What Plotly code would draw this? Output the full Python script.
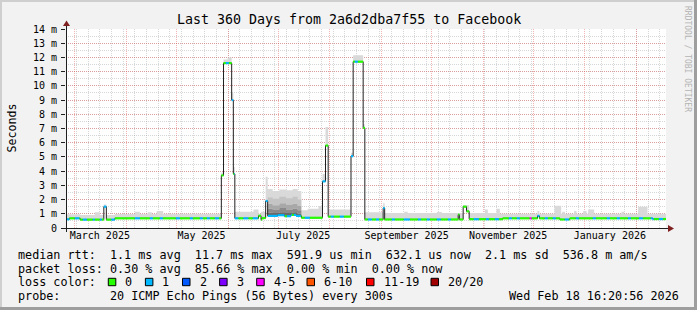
import bisect
import pandas as pd
import plotly.graph_objects as go

START = pd.Timestamp("2025-02-23 16:20:56")
END = pd.Timestamp("2026-02-18 16:20:56")
SPAN = 360.0

# ---- median RTT (ms), step series: day offset where each value starts ----
med_day = [0, 2.0, 8.5, 22.7, 24.2, 29.3, 93.2, 94.5, 99.4, 100.4, 101.3,
           115.5, 117.0, 117.5, 119.8, 121.0, 127.0, 131.0, 135.0, 138.0, 141.2,
           153.9, 155.7, 157.3, 171.0, 172.3, 178.3, 179.3, 190.3, 191.2,
           235.3, 236.0, 238.3, 240.3, 241.9, 262.0, 282.9, 284.0, 296.3, 302.3, 352.0]
med_ms = [0.61, 0.68, 0.59, 1.5, 0.59, 0.68, 3.7, 11.6, 9.0, 3.8, 0.68,
          0.86, 0.58, 0.7, 1.9, 0.85, 0.9, 0.83, 0.92, 0.85, 0.72,
          3.28, 5.8, 0.8, 5.05, 11.7, 7.04, 0.6, 1.4, 0.6,
          0.94, 0.6, 1.5, 1.17, 0.62, 0.68, 0.85, 0.68, 0.6, 0.68, 0.63]

# ---- smoke (max of the pings), step series ----
smoke_day = [0, 8.5, 17.3, 20.3, 22.7, 24.2, 29.3, 41.3, 44.3, 49.0, 51.5, 54.4, 58.3,
             93.2, 94.5, 97.0, 99.4, 100.4, 101.3, 112.5, 115.5, 117.0, 119.8,
             121.0, 124.0, 128.0, 132.0, 136.0, 139.0, 141.2, 145.0, 151.5,
             153.9, 155.7, 157.3, 171.0, 172.3, 178.3, 179.3, 190.3, 191.2,
             203.0, 205.0, 222.5, 225.5, 238.3, 241.9, 251.4, 253.1, 258.3, 260.3,
             282.9, 284.0, 293.1, 297.1, 297.8, 299.3, 304.9, 306.3, 310.3, 312.3,
             313.3, 316.9, 333.3, 334.9, 343.3, 348.9]
smoke_ms = [0.97, 0.92, 1.1, 0.92, 1.65, 0.92, 0.98, 1.15, 0.98, 1.1, 0.98, 1.2, 1.0,
            3.9, 11.85, 12.0, 9.5, 4.3, 1.15, 1.3, 1.0, 1.15, 3.6,
            2.75, 2.6, 2.7, 2.65, 2.75, 2.6, 1.25, 1.35, 1.55,
            3.8, 7.1, 1.3, 5.3, 12.15, 7.3, 1.1, 1.75, 1.05,
            1.15, 1.05, 1.12, 1.05, 1.6, 1.05, 1.3, 1.05, 1.35, 1.0,
            1.2, 1.0, 1.57, 1.0, 1.15, 1.0, 1.2, 1.0, 1.2, 1.0,
            1.3, 1.0, 1.15, 1.0, 1.5, 1.0]

# ---- denser smoke layers in the June/July period ----
busy_day = [121.0, 124.0, 128.0, 132.0, 136.0, 139.0]
busy_l1 = [1.08, 1.05, 1.10, 1.05, 1.10, 1.00]
busy_l2 = [1.35, 1.30, 1.40, 1.30, 1.35, 1.25]
busy_l3 = [1.70, 1.60, 1.75, 1.65, 1.70, 1.55]
busy_l4 = [2.15, 2.05, 2.20, 2.10, 2.20, 2.00]
busy_end = 141.2

# ---- loss classes: intervals with 1/20 loss (blue) and 4-5/20 (magenta) ----
loss1_start = [0.2, 5.3, 10.1, 16.1, 20.3, 22.7, 27.2, 41.3, 50.3, 56.3, 65.9, 74.3, 80.3,
               84.5, 89.3, 95.9, 99.4, 101.0, 106.4, 112.1, 119.8, 121.1, 132.5, 136.7,
               143.3, 153.9, 158.9, 164.3, 171.0, 173.3, 181.1, 186.0, 190.3, 195.5,
               202.7, 211.1, 216.5, 222.5, 229.1, 244.7, 251.9, 257.3, 265.7, 270.5,
               282.9, 287.3, 292.1, 299.3, 305.9, 316.1, 324.5, 330.5, 337.1, 343.7,
               350.9, 355.7]
loss1_end = [2.0, 8.0, 12.5, 17.3, 21.5, 24.2, 29.3, 44.3, 52.1, 58.1, 68.3, 76.1, 82.1,
             86.3, 91.7, 97.7, 100.4, 103.4, 109.4, 115.1, 121.0, 131.3, 135.5, 140.9,
             146.3, 155.7, 160.7, 166.7, 172.3, 175.1, 183.5, 187.8, 191.2, 197.3,
             206.3, 212.9, 218.3, 224.9, 230.9, 247.7, 253.7, 259.7, 267.5, 272.3,
             284.0, 289.1, 293.9, 301.7, 307.7, 317.9, 326.3, 332.3, 338.9, 346.1,
             352.7, 358.1]
loss4_start = [278.2]
loss4_end = [279.3]

# ---- labels ----
month_label_dates = ["2025-03-16", "2025-05-16", "2025-07-16", "2025-09-16", "2025-11-16", "2026-01-16"]
month_label_text = ["March 2025", "May 2025", "July 2025", "September 2025", "November 2025", "January 2026"]
y_tick_vals = list(range(15))
y_tick_text = ["0"] + [f"{i} m" for i in range(1, 15)]

loss_names = ["0", "1", "2", "3", "4-5", "6-10", "11-19", "20/20"]
loss_colors = ["#26ff00", "#00b8ff", "#0059ff", "#7e00ff", "#ff00ff", "#ff5500", "#ff0000", "#a10000"]

legend_rtt = "median rtt:  1.1 ms avg  11.7 ms max  591.9 us min  632.1 us now  2.1 ms sd  536.8 m am/s"
legend_loss = "packet loss: 0.30 % avg  85.66 % max  0.00 % min  0.00 % now"
legend_probe = "20 ICMP Echo Pings (56 Bytes) every 300s"
legend_date = "Wed Feb 18 16:20:56 2026"

MONO = "DejaVu Sans Mono"


def to_dt(d):
    return (START + pd.Timedelta(days=d)).strftime("%Y-%m-%d %H:%M:%S")


def lookup(days, vals, d):
    i = bisect.bisect_right(days, d) - 1
    return vals[max(i, 0)]


def loss_class(d):
    for s, e in zip(loss4_start, loss4_end):
        if s <= d < e:
            return 4
    for s, e in zip(loss1_start, loss1_end):
        if s <= d < e:
            return 1
    return 0


fig = go.Figure()

# light smoke
grid = sorted(set(med_day + smoke_day))
gx = [to_dt(d) for d in grid] + [to_dt(SPAN)]
gm = [lookup(med_day, med_ms, d) for d in grid]
gs = [lookup(smoke_day, smoke_ms, d) for d in grid]
gm.append(gm[-1])
gs.append(gs[-1])
fig.add_trace(go.Scatter(x=gx, y=gm, mode="lines", line=dict(width=0, shape="hv"),
                         hoverinfo="skip"))
fig.add_trace(go.Scatter(x=gx, y=gs, mode="lines", line=dict(width=0, shape="hv"),
                         fill="tonexty", fillcolor="#d9d9d9", hoverinfo="skip"))

# busy-period darker layers
bgrid = sorted(set(busy_day + [d for d in med_day if busy_day[0] <= d < busy_end]))
bx = [to_dt(d) for d in bgrid] + [to_dt(busy_end)]
bm = [lookup(med_day, med_ms, d) for d in bgrid]
bm.append(bm[-1])
fig.add_trace(go.Scatter(x=bx, y=bm, mode="lines", line=dict(width=0, shape="hv"),
                         hoverinfo="skip"))
for layer, col in [(busy_l1, "#6a6a6a"), (busy_l2, "#8a8a8a"), (busy_l3, "#a8a8a8"), (busy_l4, "#c4c4c4")]:
    ly = [lookup(busy_day, layer, d) for d in bgrid]
    ly.append(ly[-1])
    fig.add_trace(go.Scatter(x=bx, y=ly, mode="lines", line=dict(width=0, shape="hv"),
                             fill="tonexty", fillcolor=col, hoverinfo="skip"))

# black median line
fig.add_trace(go.Scatter(x=[to_dt(d) for d in med_day] + [to_dt(SPAN)], y=med_ms + [med_ms[-1]],
                         mode="lines", line=dict(width=1, color="#202020", shape="hv"),
                         hoverinfo="skip"))

# coloured median bands by loss
bounds = sorted(set(med_day + loss1_start + loss1_end + loss4_start + loss4_end + [SPAN]))
seg = {0: ([], []), 1: ([], []), 4: ([], [])}
for a, b in zip(bounds[:-1], bounds[1:]):
    v = lookup(med_day, med_ms, a)
    c = loss_class(a)
    xs, ys = seg[c]
    xs += [to_dt(a), to_dt(b), None]
    ys += [v, v, None]
for c in (0, 1, 4):
    xs, ys = seg[c]
    fig.add_trace(go.Scatter(x=xs, y=ys, mode="lines", line=dict(width=2.2, color=loss_colors[c]),
                             hoverinfo="skip"))

# invisible trace for label axis
fig.add_trace(go.Scatter(x=[to_dt(0)], y=[0], xaxis="x2", mode="markers",
                         marker=dict(opacity=0), hoverinfo="skip"))

# ---- layout ----
L, T, W, H = 66, 29, 600, 199


def px(x):
    return (x - L) / W


def py(y):
    return (T + H - y) / H


month_starts = [f"{y}-{m:02d}-01" for y, m in
                [(2025, 3), (2025, 4), (2025, 5), (2025, 6), (2025, 7), (2025, 8), (2025, 9),
                 (2025, 10), (2025, 11), (2025, 12), (2026, 1), (2026, 2)]]
weeks = pd.date_range("2025-03-02", "2026-02-18", freq="7D").strftime("%Y-%m-%d").tolist()

MAJ = "rgba(222,79,79,0.42)"
MIN = "rgba(143,143,143,0.36)"

fig.update_layout(
    width=697, height=310,
    margin=dict(l=L, r=697 - L - W, t=T, b=310 - T - H),
    paper_bgcolor="#f2f2f2", plot_bgcolor="#ffffff",
    showlegend=False,
    font=dict(family=MONO, color="#000000", size=10),
    xaxis=dict(type="date", range=[to_dt(0), to_dt(SPAN)], tickvals=month_starts,
               showticklabels=False, showgrid=True, gridcolor=MAJ, griddash="1px,1px", gridwidth=1,
               ticks="", zeroline=False, showline=False,
               minor=dict(tickvals=weeks, showgrid=True, gridcolor=MIN, griddash="1px,1px", gridwidth=1)),
    xaxis2=dict(type="date", overlaying="x", anchor="y", side="bottom",
                range=[to_dt(0), to_dt(SPAN)], tickvals=month_label_dates, ticktext=month_label_text,
                showgrid=False, zeroline=False, showline=False, ticks="",
                tickfont=dict(family=MONO, size=10, color="#000")),
    yaxis=dict(range=[0, 14], tickvals=y_tick_vals, ticktext=y_tick_text,
               showgrid=True, gridcolor=MAJ, griddash="1px,1px", gridwidth=1,
               zeroline=False, showline=False, ticks="outside", ticklen=4, tickcolor="#1f1f1f",
               ticklabelstandoff=2, tickfont=dict(family=MONO, size=10, color="#000"),
               minor=dict(dtick=0.5, showgrid=True, gridcolor=MIN, griddash="1px,1px", gridwidth=1)),
)

shapes = []
# axes lines
shapes.append(dict(type="line", xref="paper", yref="paper", x0=px(62.5), x1=px(669), y0=py(228.5), y1=py(228.5),
                   line=dict(color="#1f1f1f", width=1)))
shapes.append(dict(type="line", xref="paper", yref="paper", x0=px(66.5), x1=px(66.5), y0=py(232), y1=py(25),
                   line=dict(color="#1f1f1f", width=1)))
# arrows
shapes.append(dict(type="path", xref="paper", yref="paper",
                   path=f"M {px(668)},{py(225)} L {px(674)},{py(228.5)} L {px(668)},{py(232)} Z",
                   fillcolor="#801f1f", line=dict(width=0)))
shapes.append(dict(type="path", xref="paper", yref="paper",
                   path=f"M {px(63)},{py(26)} L {px(66.5)},{py(20.5)} L {px(70)},{py(26)} Z",
                   fillcolor="#801f1f", line=dict(width=0)))
# frame
shapes.append(dict(type="rect", xref="paper", yref="paper", x0=px(0), x1=px(697), y0=py(0), y1=py(2),
                   fillcolor="#cfcfcf", line=dict(width=0)))
shapes.append(dict(type="rect", xref="paper", yref="paper", x0=px(0), x1=px(2), y0=py(0), y1=py(310),
                   fillcolor="#cfcfcf", line=dict(width=0)))
shapes.append(dict(type="rect", xref="paper", yref="paper", x0=px(0), x1=px(697), y0=py(307), y1=py(310),
                   fillcolor="#9e9e9e", line=dict(width=0)))
shapes.append(dict(type="rect", xref="paper", yref="paper", x0=px(694), x1=px(697), y0=py(0), y1=py(310),
                   fillcolor="#9e9e9e", line=dict(width=0)))

ann = []
LEG = 11.75


def text(x, y, s, size=LEG, anchor="left", color="#000", angle=0):
    ann.append(dict(xref="paper", yref="paper", x=px(x), y=py(y), text=s.replace(" ", "\u00a0"),
                    showarrow=False, xanchor=anchor, yanchor="middle", textangle=angle,
                    font=dict(family=MONO, size=size, color=color)))


text(348.5, 19, "Last 360 Days from 2a6d2dba7f55 to Facebook", size=13.3, anchor="center")
text(11, 128.5, "Seconds", size=11.6, anchor="center", angle=-90)
text(688, 59, "RRDTOOL / TOBI OETIKER", size=8, anchor="center", color="#b4b4b4", angle=90)

row1 = 255
row2 = 268.5
row3 = 282
row4 = 296
text(16, row1, legend_rtt)
text(16, row2, legend_loss)
text(16, row3, "loss color:")
box_x = [108.3, 145.4, 182.5, 219.6, 256.7, 307.0, 366.5, 431.0]
for bx0, name, col in zip(box_x, loss_names, loss_colors):
    shapes.append(dict(type="rect", xref="paper", yref="paper", x0=px(bx0), x1=px(bx0 + 7.5),
                       y0=py(row3 + 3.7), y1=py(row3 - 3.7), fillcolor=col,
                       line=dict(color="#000", width=1)))
    text(bx0 + 15, row3, name)
text(16, row4, "probe:")
text(108, row4, legend_probe)
text(681, row4, legend_date, anchor="right")

fig.update_layout(shapes=shapes, annotations=ann)
fig.write_html("out.html")
